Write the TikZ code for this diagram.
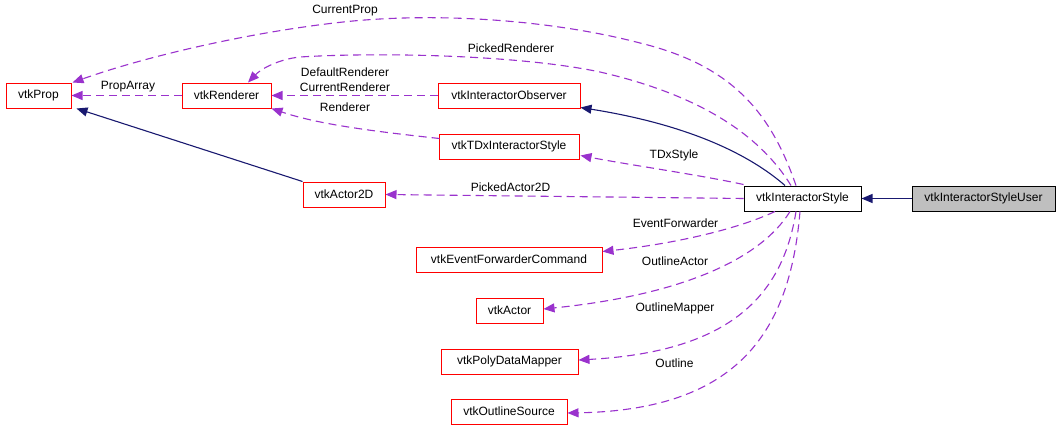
\documentclass[tikz,border=0pt]{standalone}
\usepackage{fontspec}
\setmainfont{Liberation Sans}
\usetikzlibrary{arrows.meta,calc}
\definecolor{edgepurple}{HTML}{9A32CD}
\definecolor{edgenavy}{HTML}{191970}
\definecolor{usergray}{HTML}{BFBFBF}
\begin{document}
\begin{tikzpicture}[x=1pt,y=-1pt,
  font=\fontsize{12pt}{14pt}\selectfont,
  cls/.style={draw=red,line width=1pt,fill=white,inner sep=0pt,minimum height=25pt,anchor=center},
  clsblack/.style={draw=black,line width=1pt,inner sep=0pt,minimum height=25pt,anchor=center},
  inh/.style={draw=edgenavy,line width=1.1pt,-{Triangle[length=11pt,width=9pt]}},
  uses/.style={draw=edgepurple,line width=1.1pt,dash pattern=on 8pt off 5pt,-{Triangle[length=11pt,width=9pt]}},
  lbl/.style={inner sep=0pt,anchor=center}]
\useasboundingbox (0,0) rectangle (1061,431);
\fill[white] (0,0) rectangle (1061,431);

% nodes
\node[cls,minimum width=65pt] (prop) at (38.5,95.5) {vtkProp};
\node[cls,minimum width=89pt] (rend) at (226.5,95.5) {vtkRenderer};
\node[cls,minimum width=82pt] (a2d) at (344,194.5) {vtkActor2D};
\node[cls,minimum width=142pt] (obs) at (509,95.5) {vtkInteractorObserver};
\node[cls,minimum width=140pt] (tdx) at (509,146.5) {vtkTDxInteractorStyle};
\node[clsblack,fill=white,minimum width=117pt] (sty) at (802.5,198.5) {vtkInteractorStyle};
\node[clsblack,fill=usergray,minimum width=143pt] (user) at (983.5,198.5) {vtkInteractorStyleUser};
\node[cls,minimum width=186pt] (efc) at (509,259.5) {vtkEventForwarderCommand};
\node[cls,minimum width=67pt] (act) at (509.5,310.5) {vtkActor};
\node[cls,minimum width=137pt] (pdm) at (509.5,361.5) {vtkPolyDataMapper};
\node[cls,minimum width=116pt] (ols) at (509,411.5) {vtkOutlineSource};

% inheritance
\draw[inh] (user.west) -- (sty.east);
\draw[inh] ($(sty.north)+(-17.5,0)$) .. controls (750,155) and (690,125) .. ($(obs.south east)+(0,-1)$);
\draw[inh] (a2d.north west) -- ($(prop.south east)+(5,0)$);

% usage
\draw[uses] (rend.west) -- (prop.east);
\node[lbl] (lPropArray) at (128,87) {PropArray};

\draw[uses] ($(sty.north)+(-6.5,0)$) .. controls (770,110) and (730,65) .. (640,43)
   .. controls (560,22) and (450,12) .. (353,21)
   .. controls (260,30) and (150,55) .. ($(prop.north east)+(1,0)$);
\node[lbl] (lCurrentProp) at (345,11) {CurrentProp};

\draw[uses] ($(sty.north)+(-11.5,0)$) .. controls (760,135) and (700,95) .. (600,72)
   .. controls (520,55) and (380,52) .. (300,57)
   .. controls (280,59) and (262,68) .. ($(rend.north)+(21.5,0)$);
\node[lbl] (lPickedRenderer) at (511,48) {PickedRenderer};

\draw[uses] (obs.west) -- (rend.east);
\node[lbl] (lDefaultRenderer) at (345,72) {DefaultRenderer};
\node[lbl] (lCurrentRenderer) at (345,87) {CurrentRenderer};

\draw[uses] ($(tdx.west)+(1,-8)$) .. controls (380,132) and (320,125) .. (rend.south east);
\node[lbl] (lRenderer) at (345,107) {Renderer};

\draw[uses] ($(sty.north west)+(0,-1)$) .. controls (700,175) and (630,165) .. ($(tdx.east)+(1,9)$);
\node[lbl] (lTDxStyle) at (674,155) {TDxStyle};

\draw[uses] (sty.west) -- (a2d.east);
\node[lbl] (lPickedActor2D) at (510.5,187) {PickedActor2D};

\draw[uses] ($(sty.south)+(-27.5,0)$) .. controls (740,228) and (680,243) .. ($(efc.east)+(0,-8)$);
\node[lbl] (lEventForwarder) at (675.5,223) {EventForwarder};

\draw[uses] ($(sty.south)+(-12.5,0)$) .. controls (760,260) and (680,295) .. ($(act.east)+(0,-1.5)$);
\node[lbl] (lOutlineActor) at (675,261) {OutlineActor};

\draw[uses] ($(sty.south)+(-6.5,0)$) .. controls (782,300) and (725,352) .. ($(pdm.east)+(0,-1.5)$);
\node[lbl] (lOutlineMapper) at (675,308) {OutlineMapper};

\draw[uses] ($(sty.south)+(-2.5,0)$) .. controls (790,330) and (740,410) .. ($(ols.east)+(0,1.5)$);
\node[lbl] (lOutline) at (674.5,363) {Outline};
\end{tikzpicture}
\end{document}
